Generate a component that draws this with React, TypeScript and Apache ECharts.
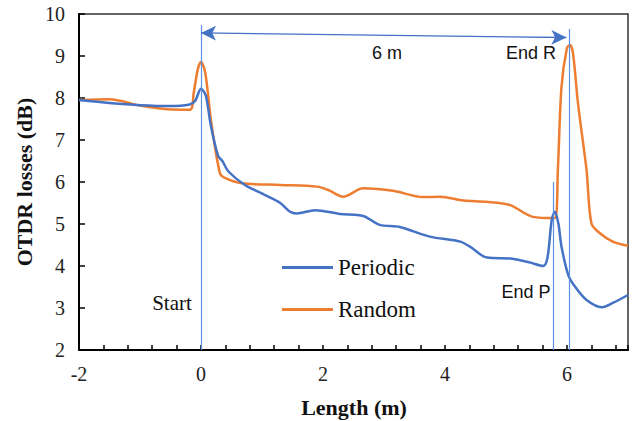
import React, { useEffect, useRef } from "react";
import * as echarts from "echarts";

// Periodic trace (length m, loss dB)
const periodicX = [-2, -1.5, -1.0, -0.5, -0.2, -0.1, 0.0, 0.08, 0.16, 0.28, 0.35, 0.45, 0.72, 1.05, 1.3, 1.46, 1.57, 1.87, 2.28, 2.66, 2.93, 3.26, 3.75, 4.25, 4.41, 4.69, 5.07, 5.2, 5.4, 5.61, 5.68, 5.75, 5.8, 5.86, 5.91, 6.02, 6.13, 6.32, 6.57, 6.75, 7.0];
const periodicY = [7.95, 7.88, 7.83, 7.81, 7.84, 7.92, 8.22, 8.05, 7.35, 6.62, 6.5, 6.25, 5.93, 5.69, 5.5, 5.29, 5.25, 5.33, 5.24, 5.19, 4.98, 4.93, 4.7, 4.58, 4.46, 4.2, 4.18, 4.15, 4.08, 4.0, 4.2, 5.1, 5.29, 5.0, 4.46, 3.79, 3.51, 3.19, 3.02, 3.12, 3.31];

// Random trace
const randomX = [-2, -1.5, -1.0, -0.55, -0.18, -0.12, -0.05, 0.0, 0.07, 0.17, 0.31, 0.39, 0.67, 1.3, 1.9, 2.1, 2.33, 2.66, 3.15, 3.64, 3.92, 4.3, 4.68, 5.07, 5.44, 5.8, 5.85, 5.91, 6.0, 6.05, 6.1, 6.18, 6.32, 6.4, 6.54, 6.75, 7.0];
const randomY = [7.95, 7.97, 7.82, 7.73, 7.72, 8.12, 8.7, 8.86, 8.6, 7.4, 6.21, 6.1, 5.97, 5.93, 5.89, 5.8, 5.65, 5.85, 5.79, 5.64, 5.65, 5.56, 5.53, 5.45, 5.17, 5.14, 6.29, 8.27, 9.2, 9.26, 9.05, 7.87, 6.29, 5.02, 4.78, 4.58, 4.48];

// Marker vertical lines: [x, top value]
const markerX = [0, 5.78, 6.04];
const markerTop = [9.74, 6.0, 9.64];

// Arrow "6 m": [x, y] start and end
const arrowStart = [0, 9.55];
const arrowEnd = [5.99, 9.44];

const seriesNames = ["Periodic", "Random"];
const colors = ["#4472C4", "#ED7D31"];

export default function App() {
  const ref = useRef<HTMLDivElement>(null);
  useEffect(() => {
    document.body.style.margin = "0";
    const chart = echarts.init(ref.current!, null, { renderer: "svg" });
    const serif = "Liberation Serif";
    const sans = "Liberation Sans";
    const markLines: any[] = markerX.map((x, i) => [
      { coord: [x, 2], symbol: "none" },
      { coord: [x, markerTop[i]], symbol: "none" },
    ]);
    markLines.push([
      { coord: arrowStart, lineStyle: { color: "#4472C4", width: 1.3, type: "solid" } },
      { coord: arrowEnd },
    ]);
    chart.setOption({
      animation: false,
      grid: { left: 79, right: 5, top: 14, bottom: 71, show: true, borderColor: "#333", borderWidth: 1.5 },
      xAxis: {
        type: "value",
        min: -2,
        max: 7,
        interval: 0.4,
        axisLine: { onZero: false, lineStyle: { color: "#000", width: 2 } },
        axisTick: { inside: true, length: 5, lineStyle: { color: "#000", width: 1.5 } },
        splitLine: { show: false },
        axisLabel: {
          color: "#222",
          fontFamily: serif,
          fontSize: 20,
          margin: 14,
          formatter: (v: number) => {
            const r = Math.round(v);
            return Math.abs(v - r) < 1e-6 && r % 2 === 0 ? String(r) : "";
          },
        },
      },
      yAxis: {
        type: "value",
        min: 2,
        max: 10,
        interval: 1,
        axisLine: { show: true, onZero: false, lineStyle: { color: "#000", width: 2 } },
        axisTick: { show: true, inside: true, length: 6, lineStyle: { color: "#000", width: 1.5 } },
        splitLine: { show: false },
        axisLabel: { color: "#222", fontFamily: serif, fontSize: 20, margin: 14 },
      },
      legend: {
        orient: "vertical",
        left: 277,
        top: 251,
        icon: "rect",
        itemWidth: 51,
        itemHeight: 3,
        itemGap: 19,
        textStyle: { fontFamily: serif, fontSize: 23, color: "#111" },
        data: seriesNames,
      },
      series: [
        {
          name: seriesNames[0],
          type: "line",
          data: periodicX.map((x, i) => [x, periodicY[i]]),
          smooth: 0.3,
          symbol: "none",
          lineStyle: { color: colors[0], width: 2.5 },
          itemStyle: { color: colors[0] },
          z: 3,
          markLine: {
            silent: true,
            symbol: ["arrow", "arrow"],
            symbolSize: [11, 15],
            label: { show: false },
            lineStyle: { color: "#5B8FE0", width: 1.2, type: "solid", opacity: 1 },
            itemStyle: { color: "#4472C4" },
            data: markLines,
          },
        },
        {
          name: seriesNames[1],
          type: "line",
          data: randomX.map((x, i) => [x, randomY[i]]),
          smooth: 0.3,
          symbol: "none",
          lineStyle: { color: colors[1], width: 2.5 },
          itemStyle: { color: colors[1] },
          z: 2,
        },
      ],
      graphic: [
        { type: "text", x: 387, y: 53, style: { text: "6 m", font: `18px "${sans}"`, fill: "#111", textAlign: "center", textVerticalAlign: "middle" } },
        { type: "text", x: 531, y: 53, style: { text: "End R", font: `18px "${sans}"`, fill: "#111", textAlign: "center", textVerticalAlign: "middle" } },
        { type: "text", x: 526, y: 292, style: { text: "End P", font: `18px "${sans}"`, fill: "#111", textAlign: "center", textVerticalAlign: "middle" } },
        { type: "text", x: 172, y: 303, style: { text: "Start", font: `21px "${serif}"`, fill: "#111", textAlign: "center", textVerticalAlign: "middle" } },
        { type: "text", x: 24, y: 182, rotation: Math.PI / 2, style: { text: "OTDR losses (dB)", font: `bold 22px "${serif}"`, fill: "#111", textAlign: "center", textVerticalAlign: "middle" } },
        { type: "text", x: 354, y: 407, style: { text: "Length (m)", font: `bold 22px "${serif}"`, fill: "#111", textAlign: "center", textVerticalAlign: "middle" } },
      ],
    });
    return () => chart.dispose();
  }, []);
  return <div ref={ref} style={{ width: 633, height: 421 }} />;
}
